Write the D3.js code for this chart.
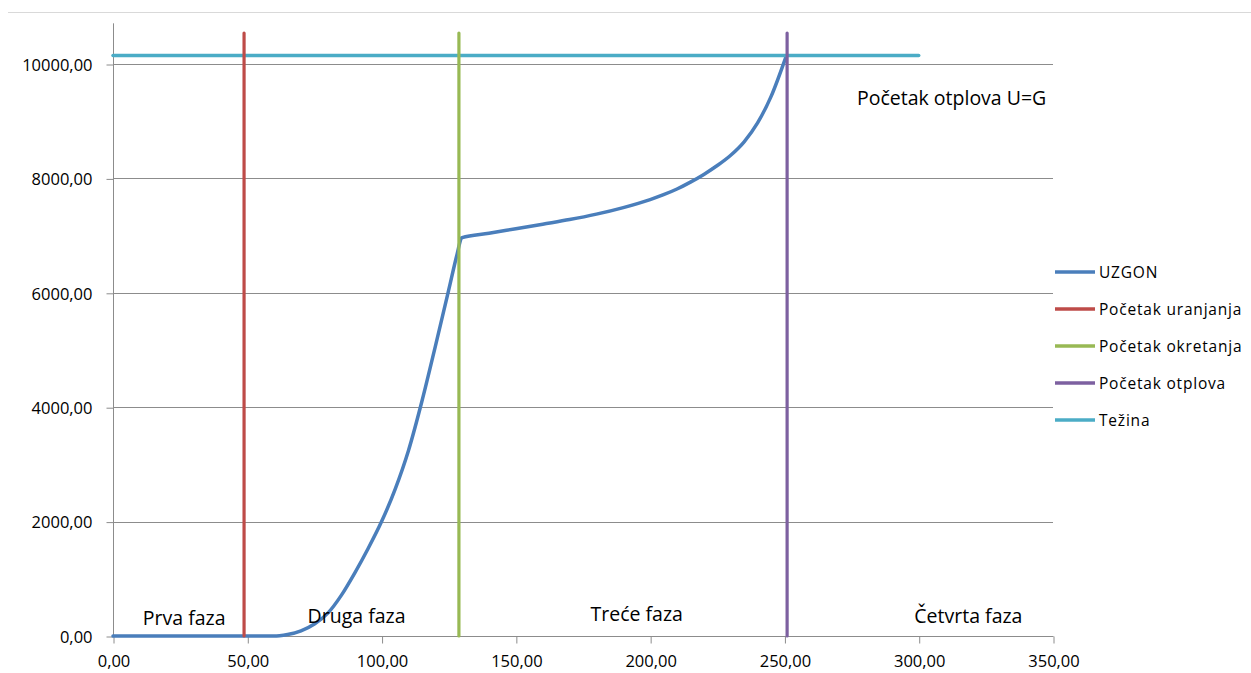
<!DOCTYPE html>
<html>
<head>
<meta charset="utf-8">
<script src="https://cdn.jsdelivr.net/npm/d3@7"></script>
<style>
  html, body { margin: 0; padding: 0; background: #fff; }
  svg { display: block; }
  text { font-family: "Open Sans", "Liberation Sans", sans-serif; fill: #000; }
</style>
</head>
<body>
<svg id="chart" width="1251" height="673"></svg>
<script>
// ---- data ----
const uzgonX = [0, 10, 20, 30, 40, 50, 55, 60, 62, 65, 70, 75, 80, 85, 90, 95, 100, 105, 110, 115, 120, 125, 128.1,
                129.8, 130, 140, 150, 160, 170, 180, 190, 200, 205, 210, 215, 220, 225, 230, 235, 240, 245, 250.6];
const uzgonY = [0, 0, 0, 0, 0, 0, 0, 0, 5, 25, 90, 210, 400, 710, 1100, 1530, 2000, 2560, 3240, 4100, 5060, 6050, 6670,
                6960, 6965, 7040, 7120, 7200, 7280, 7375, 7490, 7630, 7715, 7815, 7935, 8070, 8225, 8405, 8640, 8970, 9430, 10130];
const vertNames = ["Početak uranjanja", "Početak okretanja", "Početak otplova"];
const vertX = [48.8, 128.8, 251.0];
const vertTop = 10540;
const tezinaX = [0, 300];
const tezinaY = [10150, 10150];
const legendNames = ["UZGON", "Početak uranjanja", "Početak okretanja", "Početak otplova", "Težina"];
const colors = ["#4a7ebb", "#be4b48", "#98b954", "#7d60a0", "#4bacc6"];
const xTicks = [0, 50, 100, 150, 200, 250, 300, 350];
const yTicks = [0, 2000, 4000, 6000, 8000, 10000];
const xMax = 350, yMax = 10720;
const phaseLabels = ["Prva faza", "Druga faza", "Treće faza", "Četvrta faza"];
const phaseX = [26.5, 90.7, 195, 318.5];
const phaseY = [200, 230, 260, 230];
const noteText = "Početak otplova U=G";

// ---- layout ----
const svg = d3.select("#chart");
const left = 113, right = 1053, bottom = 636;
const x = d3.scaleLinear().domain([0, xMax]).range([left, right]);
const y = d3.scaleLinear().domain([0, 10000]).range([bottom, 64]);
const yTop = y(yMax);
const fmt = v => d3.format(".2f")(v).replace(".", ",");

// frame top line
svg.append("line").attr("x1", 8).attr("x2", 1251).attr("y1", 12.5).attr("y2", 12.5)
  .attr("stroke", "#d9d9d9").attr("stroke-width", 1);

// gridlines
svg.append("g").selectAll("line").data(yTicks.filter(d => d > 0)).join("line")
  .attr("x1", left).attr("x2", right)
  .attr("y1", d => Math.round(y(d)) + 0.5).attr("y2", d => Math.round(y(d)) + 0.5)
  .attr("stroke", "#8c8c8c").attr("stroke-width", 1);

// y axis
const yAxis = d3.axisLeft(y).tickValues(yTicks).tickFormat(fmt).tickSize(7).tickPadding(14);
const gy = svg.append("g").attr("transform", `translate(${left + 0.5},0.5)`).call(yAxis);
gy.select(".domain").remove();
gy.append("line").attr("x1", 0).attr("x2", 0).attr("y1", yTop).attr("y2", bottom).attr("stroke", "#8c8c8c");
gy.selectAll(".tick line").attr("stroke", "#8c8c8c");
gy.selectAll(".tick text").style("font-size", "16.5px").attr("fill", "#000").attr("dy", "0.35em");

// x axis
const xAxis = d3.axisBottom(x).tickValues(xTicks).tickFormat(fmt).tickSize(7).tickPadding(12);
const gx = svg.append("g").attr("transform", `translate(0.5,${bottom + 0.5})`).call(xAxis);
gx.select(".domain").attr("stroke", "#8c8c8c").attr("d", `M${left},0H${right}`);
gx.selectAll(".tick line").attr("stroke", "#8c8c8c");
gx.selectAll(".tick text").style("font-size", "16.5px").attr("fill", "#000");

const line = d3.line().x(d => x(d[0])).y(d => y(d[1]));

// UZGON
svg.append("path").datum(uzgonX.map((v, i) => [v, uzgonY[i]]))
  .attr("d", d3.line().x(d => x(d[0])).y(d => y(d[1])).curve(d3.curveMonotoneX))
  .attr("fill", "none").attr("stroke", colors[0])
  .attr("stroke-width", 3.5).attr("stroke-linejoin", "round").attr("stroke-linecap", "round");

// Težina
svg.append("path").datum(tezinaX.map((v, i) => [v, tezinaY[i]]))
  .attr("d", line).attr("fill", "none").attr("stroke", colors[4]).attr("stroke-width", 3.5).attr("stroke-linecap", "round");

// vertical phase lines
vertX.forEach((vx, i) => {
  svg.append("path").datum([[vx, 0], [vx, vertTop]])
    .attr("d", line).attr("fill", "none").attr("stroke", colors[i + 1]).attr("stroke-width", 3.2).attr("stroke-linecap", "round");
});

// phase labels
svg.append("g").selectAll("text").data(phaseLabels).join("text")
  .attr("x", (d, i) => x(phaseX[i])).attr("y", (d, i) => y(phaseY[i]))
  .attr("text-anchor", "middle").style("font-size", "19.5px").text(d => d);

// note
svg.append("text").attr("x", 857).attr("y", 105).style("font-size", "19.5px").text(noteText);

// legend
const lg = svg.append("g").attr("transform", "translate(1055,272)");
legendNames.forEach((n, i) => {
  const g = lg.append("g").attr("transform", `translate(0,${i * 37})`);
  g.append("line").attr("x1", 0).attr("x2", 40).attr("y1", 0).attr("y2", 0)
    .attr("stroke", colors[i]).attr("stroke-width", 3.5);
  g.append("text").attr("x", 44).attr("y", 0).attr("dy", "0.36em")
    .style("font-size", "15.5px").style("letter-spacing", "0.8px").text(n);
});
</script>
</body>
</html>
